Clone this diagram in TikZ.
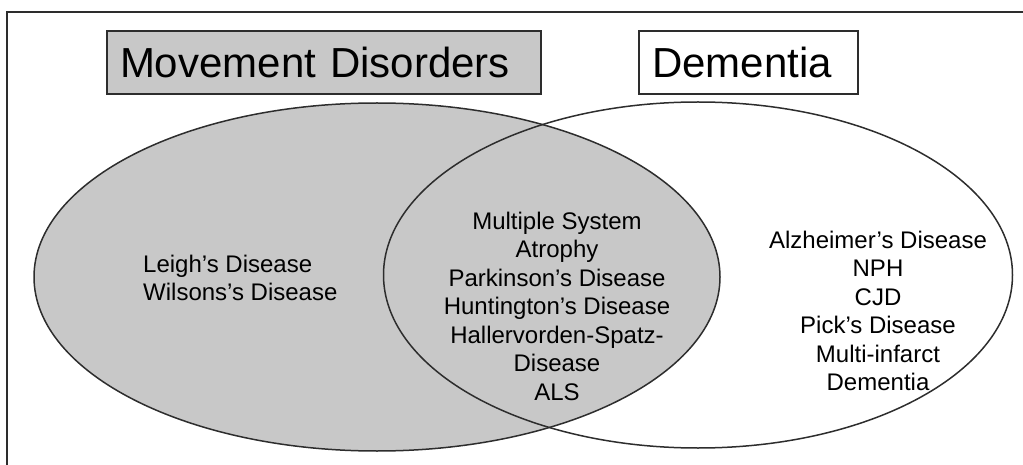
\documentclass[tikz,border=0pt]{standalone}
\usepackage{fontspec}
\setmainfont{Liberation Sans}
\definecolor{setgray}{RGB}{200,200,200}
\definecolor{linegray}{RGB}{45,45,45}
\tikzset{
  titlebox/.style={draw=linegray,line width=1.4pt,inner xsep=13pt,inner ysep=0pt,
    minimum height=63pt,align=left,text height=30pt,text depth=0pt,
    font=\fontsize{42}{48}\selectfont},
  setlabel/.style={inner sep=0pt,font=\fontsize{24}{28.5}\selectfont}
}
\begin{document}
\begin{tikzpicture}[x=1pt,y=-1pt]
\useasboundingbox (0,0) rectangle (1023,465);
\draw[linegray,line width=2pt] (7,465) -- (7,12) -- (1023,12);

% the two sets
\fill[setgray] (377,277) ellipse (343 and 174);
\draw[linegray,line width=1.5pt] (377,277) ellipse (343 and 174);
\draw[linegray,line width=1.5pt] (698,275) ellipse (314.5 and 173);

\node[titlebox,fill=setgray,text width=408pt] (mvtitle) at (324,62.5) {Movement Disorders};
\node[titlebox,fill=white,text width=193pt] (dmtitle) at (748.5,62.5) {Dementia};

\node[setlabel,anchor=west,align=left] (mvonly) at (143,278) {Leigh’s Disease\\Wilsons’s Disease};
\node[setlabel,align=center] (both) at (557,306) {Multiple System\\Atrophy\\Parkinson’s Disease\\Huntington’s Disease\\Hallervorden-Spatz-\\Disease\\ALS};
\node[setlabel,align=center] (dmonly) at (878,311) {Alzheimer’s Disease\\NPH\\CJD\\Pick’s Disease\\Multi-infarct\\Dementia};
\end{tikzpicture}
\end{document}
